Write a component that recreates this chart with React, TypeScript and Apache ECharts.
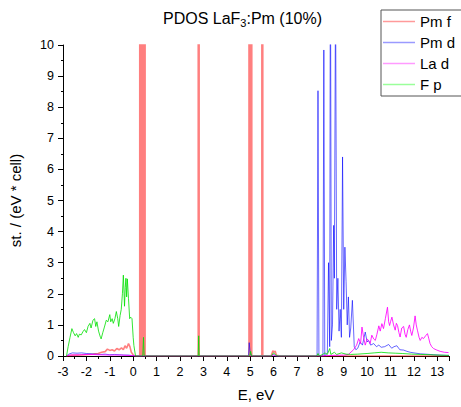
import React, { useEffect, useRef } from "react";
import * as echarts from "echarts";

const titleText = "PDOS LaF{sub|3}:Pm (10%)";
const xName = "E, eV";
const yName = "st. / (eV * cell)";
const seriesNames = ["Pm f", "Pm d", "La d", "F p"];

// [E (eV), states]
const pmF: number[][] = [
  [-2.85, 0], [-2.6, 0.02], [-2.2, 0.03], [-1.9, 0.05], [-1.7, 0.06], [-1.5, 0.08], [-1.35, 0.12],
  [-1.2, 0.14], [-1.1, 0.22], [-1.0, 0.18], [-0.9, 0.2], [-0.8, 0.16], [-0.7, 0.24], [-0.6, 0.2],
  [-0.5, 0.26], [-0.42, 0.2], [-0.35, 0.33], [-0.28, 0.25], [-0.2, 0.4], [-0.14, 0.3], [-0.08, 0.12],
  [0, 0.04], [0.05, 0],
  [0.28, 0], [0.3, 400], [0.32, 0], [0.37, 0], [0.39, 400], [0.41, 0], [0.47, 0], [0.49, 400], [0.51, 0],
  [2.78, 0], [2.8, 400], [2.82, 0],
  [4.95, 0], [4.97, 400], [4.99, 0], [5.03, 0], [5.05, 400], [5.07, 0],
  [5.5, 0], [5.52, 400], [5.54, 0],
  [5.9, 0], [5.97, 0.17], [6.02, 0.12], [6.07, 0.16], [6.12, 0.02], [6.3, 0],
  [13.5, 0],
];

const pmD: number[][] = [
  [-2.85, 0], [-2.75, 0.06], [-2.6, 0.1], [-2.4, 0.09], [-2.2, 0.1], [-2.0, 0.08], [-1.8, 0.07],
  [-1.6, 0.06], [-1.4, 0.05], [-1.2, 0.06], [-1.0, 0.04], [-0.8, 0.05], [-0.6, 0.04], [-0.4, 0.03],
  [-0.2, 0.03], [0, 0.01], [0.1, 0],
  [4.93, 0], [4.96, 0.43], [5.0, 0.1], [5.05, 0],
  [5.9, 0], [6.0, 0.05], [6.1, 0],
  [7.86, 0], [7.9, 8.53], [7.94, 0], [8.11, 0], [8.15, 9.84], [8.19, 0], [8.3, 0.1], [8.35, 3.0],
  [8.4, 0.3], [8.43, 14], [8.47, 0.5], [8.52, 1], [8.57, 4.2], [8.6, 2.5], [8.65, 12], [8.7, 1.5],
  [8.75, 2.5], [8.8, 0.8], [8.85, 1.5], [8.9, 0.6], [8.95, 6.4], [9.0, 1.5], [9.05, 3.5], [9.1, 2.4],
  [9.15, 1.0], [9.2, 1.9], [9.25, 0.6], [9.3, 0.9], [9.37, 1.79], [9.45, 0.3], [9.52, 0.2], [9.6, 0.25],
  [9.7, 0.45], [9.8, 0.35], [9.92, 0.77], [10.0, 0.45], [10.06, 0.5], [10.15, 0.35], [10.28, 0.4],
  [10.4, 0.3], [10.5, 0.35], [10.6, 0.28], [10.75, 0.3], [10.92, 0.37], [11.05, 0.25], [11.15, 0.3],
  [11.27, 0.33], [11.4, 0.2], [11.56, 0.19], [11.7, 0.15], [11.84, 0.12], [12.0, 0.1], [12.27, 0.07],
  [12.5, 0.06], [12.84, 0.04], [13.1, 0.03], [13.4, 0.02], [13.5, 0.02],
];

const laD: number[][] = [
  [-2.85, 0], [-2.7, 0.03], [-2.3, 0.04], [-1.9, 0.05], [-1.5, 0.04], [-1.0, 0.03], [-0.5, 0.03],
  [0, 0.01], [0.1, 0], [5.9, 0], [6.0, 0.03], [6.1, 0],
  [8.0, 0], [8.5, 0.02], [9.0, 0.03], [9.2, 0.05], [9.42, 0.2], [9.55, 0.35], [9.64, 0.56], [9.72, 0.4],
  [9.78, 0.93], [9.85, 0.6], [9.92, 0.35], [10.0, 0.55], [10.06, 0.5], [10.13, 0.4], [10.2, 0.67],
  [10.28, 0.55], [10.35, 0.5], [10.42, 0.7], [10.5, 0.97], [10.56, 0.8], [10.63, 1.04], [10.7, 0.88],
  [10.78, 1.2], [10.87, 1.57], [10.92, 1.1], [10.96, 0.98], [11.0, 1.1], [11.06, 1.25], [11.13, 1.0],
  [11.2, 0.83], [11.25, 1.05], [11.3, 0.98], [11.36, 0.75], [11.41, 0.61], [11.48, 0.9], [11.56, 0.95],
  [11.62, 0.7], [11.67, 0.6], [11.74, 0.85], [11.81, 1.0], [11.86, 0.8], [11.91, 0.66], [11.98, 0.9],
  [12.05, 1.29], [12.1, 1.0], [12.15, 0.83], [12.22, 0.6], [12.27, 0.5], [12.34, 0.6], [12.41, 0.56],
  [12.5, 0.65], [12.58, 0.72], [12.64, 0.55], [12.69, 0.4], [12.76, 0.3], [12.84, 0.24], [12.95, 0.2],
  [13.12, 0.15], [13.3, 0.12], [13.48, 0.11],
];

const fP: number[][] = [
  [-2.85, 0], [-2.78, 0.3], [-2.7, 0.6], [-2.62, 0.88], [-2.55, 0.75], [-2.48, 0.65], [-2.42, 0.72],
  [-2.35, 0.6], [-2.3, 0.7], [-2.22, 0.68], [-2.15, 0.78], [-2.08, 0.85], [-2.0, 0.75], [-1.93, 0.95],
  [-1.85, 1.05], [-1.8, 0.9], [-1.72, 1.15], [-1.65, 1.2], [-1.6, 0.95], [-1.55, 1.1], [-1.48, 0.8],
  [-1.4, 0.6], [-1.37, 0.55], [-1.3, 0.75], [-1.23, 0.93], [-1.15, 1.15], [-1.08, 1.1], [-1.0, 1.33],
  [-0.96, 1.1], [-0.9, 1.2], [-0.85, 1.05], [-0.78, 1.2], [-0.72, 1.43], [-0.66, 1.2], [-0.62, 0.95],
  [-0.56, 1.3], [-0.51, 1.5], [-0.46, 2.0], [-0.42, 2.6], [-0.37, 1.6], [-0.34, 2.2], [-0.31, 2.5],
  [-0.28, 1.9], [-0.25, 2.48], [-0.2, 1.84], [-0.15, 1.2], [-0.11, 1.25], [-0.05, 1.2], [0.0, 0.6],
  [0.03, 0.34], [0.1, 0], [0.41, 0], [0.44, 0.6], [0.47, 0], [2.78, 0], [2.8, 0.65], [2.82, 0],
  [4.98, 0], [5.02, 0.15], [5.06, 0], [5.9, 0], [6.0, 0.1], [6.1, 0.03], [6.2, 0],
  [7.85, 0], [7.9, 0.08], [7.95, 0], [8.1, 0.05], [8.2, 0.1], [8.3, 0.05], [8.4, 0.24], [8.45, 0.05],
  [8.6, 0.12], [8.7, 0.05], [8.9, 0.1], [9.1, 0.06], [9.3, 0.05], [9.6, 0.06], [10.0, 0.08],
  [10.3, 0.1], [10.6, 0.12], [10.9, 0.1], [11.2, 0.09], [11.5, 0.08], [11.9, 0.06], [12.3, 0.05],
  [12.7, 0.04], [13.0, 0.03], [13.5, 0.02],
];

const seriesData = [pmF, pmD, laD, fP];
const lineColors = ["#ff0000", "#0000ff", "#ff00ff", "#00e000"];
const lineOpacity = [0.5, 0.6, 0.85, 0.8];
const legendColors = ["#ff9a9a", "#9a9aff", "#ff9aff", "#9aff9a"];

const FONT = "'Liberation Sans', Arial, sans-serif";

export default function App() {
  const ref = useRef<HTMLDivElement>(null);
  useEffect(() => {
    if (!ref.current) return;
    const chart = echarts.init(ref.current, undefined, { renderer: "svg" });
    chart.setOption({
      animation: false,
      backgroundColor: "#ffffff",
      textStyle: { fontFamily: FONT },
      title: {
        text: titleText,
        left: 163,
        top: 8,
        padding: 0,
        textStyle: {
          fontFamily: FONT,
          fontSize: 16,
          fontWeight: "normal",
          color: "#000",
          rich: {
            sub: { fontFamily: FONT, fontSize: 11, color: "#000", padding: [9, 0, 0, 0] },
          },
        },
      },
      legend: {
        orient: "vertical",
        left: 381,
        top: 10,
        padding: [4, 30, 4, 2],
        itemGap: 6,
        itemWidth: 32,
        itemHeight: 14,
        borderColor: "#555",
        borderWidth: 1,
        backgroundColor: "#fff",
        textStyle: { fontFamily: FONT, fontSize: 15, color: "#000" },
        data: seriesNames.map((n, i) => ({
          name: n,
          icon: "path://M0,0L32,0L32,1.5L0,1.5Z",
          itemStyle: { color: legendColors[i], opacity: 1, borderWidth: 0 },
        })),
      },
      grid: { left: 62, right: 12, top: 45, bottom: 50, containLabel: false },
      xAxis: {
        type: "value",
        min: -3,
        max: 13.5,
        interval: 1,
        name: xName,
        nameLocation: "middle",
        nameGap: 31,
        nameTextStyle: { fontFamily: FONT, fontSize: 15, color: "#000" },
        axisLine: { onZero: false, lineStyle: { color: "#000", width: 1 } },
        axisTick: { show: true, length: 5, lineStyle: { color: "#000" } },
        minorTick: { show: true, splitNumber: 2, length: 3, lineStyle: { color: "#000" } },
        axisLabel: { fontFamily: FONT, fontSize: 12.5, color: "#000", margin: 9 },
        splitLine: { show: false },
      },
      yAxis: {
        type: "value",
        min: 0,
        max: 10,
        interval: 1,
        name: yName,
        nameLocation: "middle",
        nameGap: 40,
        nameTextStyle: { fontFamily: FONT, fontSize: 15, color: "#000" },
        axisLine: { show: true, onZero: false, lineStyle: { color: "#000", width: 1 } },
        axisTick: { show: true, length: 5, lineStyle: { color: "#000" } },
        minorTick: { show: true, splitNumber: 2, length: 2, lineStyle: { color: "#000" } },
        axisLabel: { fontFamily: FONT, fontSize: 12.5, color: "#000", margin: 9 },
        splitLine: { show: false },
      },
      series: seriesNames.map((n, i) => ({
        name: n,
        type: "line",
        data: seriesData[i],
        showSymbol: false,
        symbol: "none",
        clip: true,
        lineStyle: { color: lineColors[i], width: i === 0 ? 1.6 : 1, opacity: lineOpacity[i] },
        itemStyle: { color: lineColors[i] },
        z: 2 + i,
      })),
    });
    return () => chart.dispose();
  }, []);
  return (
    <div
      ref={ref}
      style={{ position: "fixed", left: 0, top: 0, width: 461, height: 407 }}
    />
  );
}
